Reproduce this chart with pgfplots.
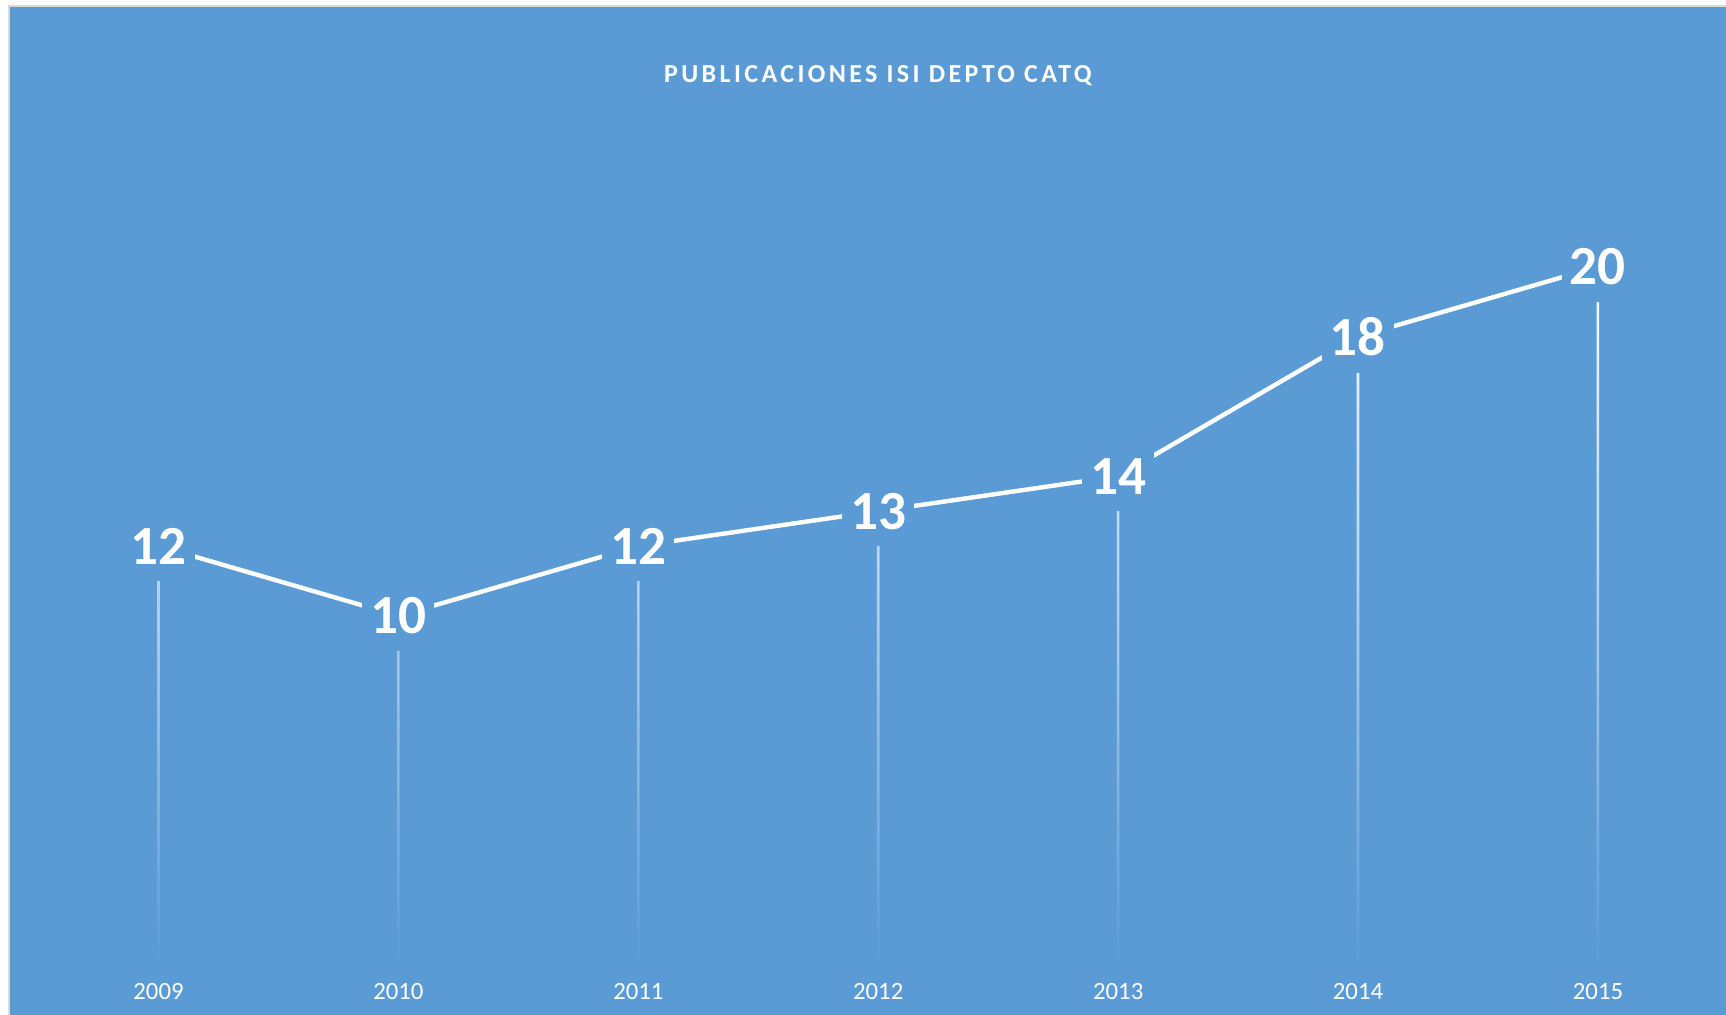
\documentclass[border=0pt]{standalone}
\usepackage{pgfplots}
\pgfplotsset{compat=1.18}
\usepackage{fontspec}
\setmainfont{Carlito}
\newfontfamily\titlefont[LetterSpace=13]{Carlito}
\definecolor{bgblue}{HTML}{5B9BD5}
\definecolor{bordergray}{HTML}{D9D9D9}
\begin{document}
\begin{tikzpicture}
\path[use as bounding box] (0,0) rectangle (863pt,507.5pt);
\fill[white] (0,0) rectangle (863pt,507.5pt);
\fill[bgblue] (5pt,0) rectangle (863pt,504pt);
\draw[bordergray, line width=1pt] (4.5pt,0) -- (4.5pt,504.5pt) -- (863pt,504.5pt);
\node[text=white, font=\titlefont\bfseries\fontsize{13}{15}\selectfont] at (439pt,469.5pt) {PUBLICACIONES ISI DEPTO CATQ};
\begin{axis}[
  at={(19.3pt,25pt)}, anchor=south west,
  scale only axis, width=839.6pt, height=384pt,
  xmin=2008.5, xmax=2015.5, ymin=0, ymax=22,
  axis lines=none, clip=false,
  xtick=\empty, ytick=\empty,
  /pgf/number format/assume math mode=true,
]
\addplot[ybar, bar width=1.3pt, draw=none, shade, top color=white, middle color=white!85!bgblue, bottom color=bgblue, bar shift=0pt]
  coordinates {(2009,12) (2010,10) (2011,12) (2012,13) (2013,14) (2014,18) (2015,20)};
\addplot[white, line width=2.2pt, mark=none,
  nodes near coords,
  every node near coord/.append style={anchor=center, fill=bgblue, text=white, inner xsep=4pt, inner ysep=8.5pt, text depth=0pt, font=\bfseries\fontsize{27.6}{30}\selectfont}]
  coordinates {(2009,12) (2010,10) (2011,12) (2012,13) (2013,14) (2014,18) (2015,20)};
\end{axis}
\foreach \yr/\xx in {2009/79.25,2010/199.2,2011/319.2,2012/439.1,2013/559.1,2014/679.0,2015/799.0} {
  \node[text=white, font=\fontsize{12.4}{14}\selectfont] at (\xx pt,11.5pt) {\yr};
}
\end{tikzpicture}
\end{document}
